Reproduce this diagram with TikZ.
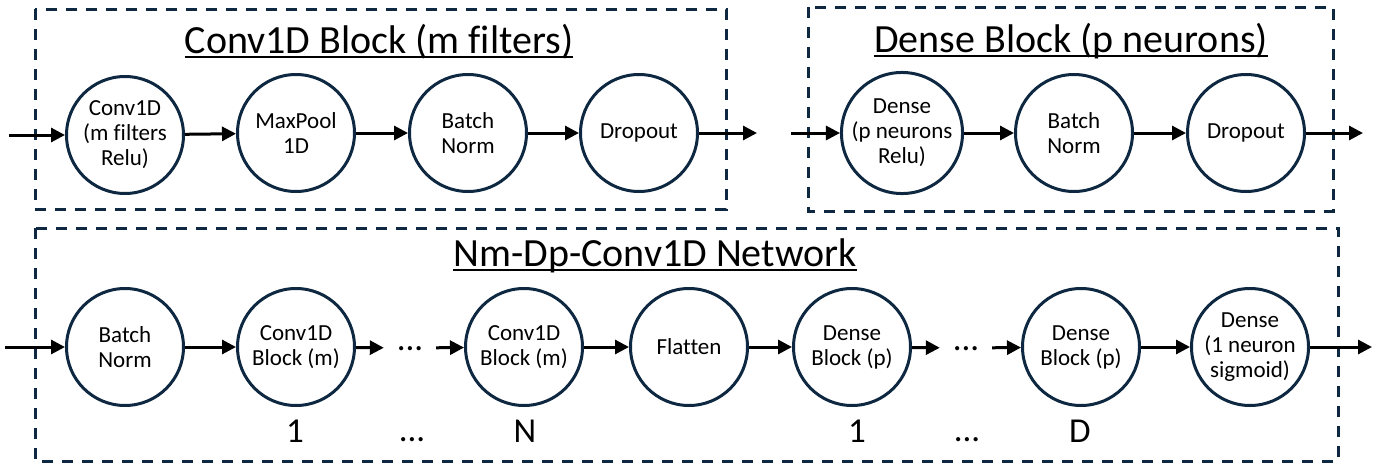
\documentclass[tikz,border=0pt]{standalone}
\usepackage{fontspec}
\setmainfont{Carlito}[Ligatures=NoCommon]
\usetikzlibrary{arrows.meta}
\definecolor{navy}{HTML}{0E2841}

\begin{document}
\begin{tikzpicture}[x=1pt,y=-1pt,>={Triangle[length=14pt,width=14pt]},
    main node/.style={circle,draw=navy,line width=3pt,minimum size=117pt,inner sep=0pt,align=center,font=\fontsize{23}{25}\selectfont},
    title node/.style={anchor=base,inner sep=0pt,font=\fontsize{40}{40}\selectfont},
    idx node/.style={anchor=base,inner sep=0pt,font=\fontsize{35}{35}\selectfont},
    dots node/.style={inner sep=0pt,minimum width=52pt,text height=4pt,text depth=0pt,font=\fontsize{35}{35}\selectfont},
    block box/.style={draw=navy,line width=3pt,dash pattern=on 11pt off 9pt},
    flow/.style={->,line width=3pt}]
                \useasboundingbox (0,0) rectangle (1387,466);
                \draw[block box] (35,9) rectangle (726,209);
                \draw[block box] (808,7) rectangle (1333,211);
                \draw[block box] (35,228) rectangle (1338,461);

                \node[title node] at (379,53) (t1) {Conv1D Block (m filters)};
                \node[title node] at (1071,52) (t2) {Dense Block (p neurons)};
                \node[title node] at (655,266) (t3) {Nm-Dp-Conv1D Network};
                \foreach \t in {t1,t2,t3}
                    \draw[line width=1.5pt] ([yshift=-4pt]\t.base west) -- ([yshift=-4pt]\t.base east);

                \node[main node] at (125,135) (cv) {Conv1D\\(m filters\\Relu)};
                \node[main node] at (296,133) (mp) {MaxPool\\1D};
                \node[main node] at (468,133) (bn) {Batch\\Norm};
                \node[main node] at (639,133) (dp) {Dropout};
                \coordinate (in1) at (9,135);
                \coordinate (out1) at (757,133);

                \node[main node] at (902,133) (dn) {Dense\\(p neurons\\Relu)};
                \node[main node] at (1074,133) (bnd) {Batch\\Norm};
                \node[main node] at (1246,133) (dpd) {Dropout};
                \coordinate (in2) at (791,133);
                \coordinate (out2) at (1363,133);

                \node[main node] at (125,347) (bn0) {Batch\\Norm};
                \node[main node] at (296,347) (c1) {Conv1D\\Block (m)};
                \node[dots node] at (410,348) (cdots) {...};
                \node[main node] at (524,347) (cn) {Conv1D\\Block (m)};
                \node[main node] at (689,347) (fl) {Flatten};
                \node[main node] at (852,347) (d1) {Dense\\Block (p)};
                \node[dots node] at (966,348) (ddots) {...};
                \node[main node] at (1081,347) (dd) {Dense\\Block (p)};
                \node[main node] at (1250,347) (fin) {Dense\\(1 neuron\\sigmoid)};
                \coordinate (in3) at (5,347);
                \coordinate (out3) at (1372,347);

                \node[idx node] at (295,442) (i1) {1};
                \node[idx node] at (412,441) (i2) {...};
                \node[idx node] at (525,442) (i3) {N};
                \node[idx node] at (857,442) (i4) {1};
                \node[idx node] at (967,441) (i5) {...};
                \node[idx node] at (1080,442) (i6) {D};

                \path[flow] (in1) edge (cv);
                \path[flow] (cv) edge (mp);
                \path[flow] (mp) edge (bn);
                \path[flow] (bn) edge (dp);
                \path[flow] (dp) edge (out1);
                \path[flow] (in2) edge (dn);
                \path[flow] (dn) edge (bnd);
                \path[flow] (bnd) edge (dpd);
                \path[flow] (dpd) edge (out2);
                \path[flow] (in3) edge (bn0);
                \path[flow] (bn0) edge (c1);
                \path[flow] (c1) edge (cdots);
                \path[flow] (cdots) edge (cn);
                \path[flow] (cn) edge (fl);
                \path[flow] (fl) edge (d1);
                \path[flow] (d1) edge (ddots);
                \path[flow] (ddots) edge (dd);
                \path[flow] (dd) edge (fin);
                \path[flow] (fin) edge (out3);

            \end{tikzpicture}
\end{document}
